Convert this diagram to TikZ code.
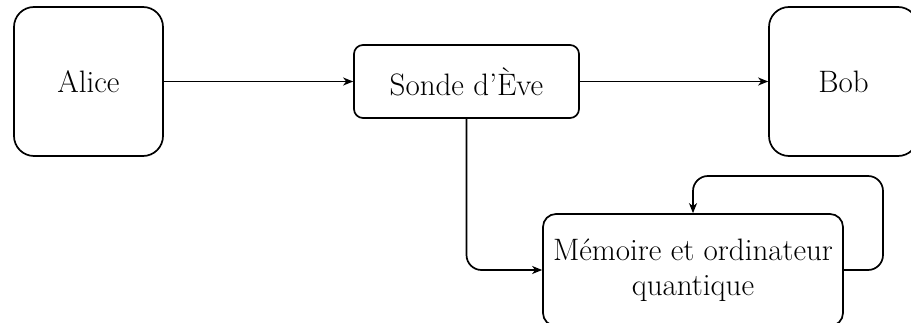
\documentclass[tikz,border=0pt]{standalone}
\usepackage{fontspec}
\usetikzlibrary{arrows.meta}
\begin{document}
\begin{tikzpicture}[x=1pt,y=-1pt,
  every node/.style={font=\fontsize{31}{35}\selectfont},
  bigbox/.style={draw,line width=1.7pt,rounded corners=20pt,minimum width=149pt,minimum height=149pt,inner sep=0pt},
  probe/.style={draw,line width=1.7pt,rounded corners=9pt,minimum width=225pt,minimum height=73pt,inner sep=0pt},
  membox/.style={draw,line width=1.7pt,rounded corners=13pt,minimum width=300pt,minimum height=112pt,inner sep=0pt,align=center},
  link/.style={line width=1.7pt,rounded corners=15pt,-{Stealth[length=10pt,width=8pt,inset=3pt]}}]
\useasboundingbox (0,0) rectangle (911,323);
\clip (0,0) rectangle (911,323);
\node[bigbox] (alice) at (88.5,81.5) {Alice};
\node[probe] (eve) at (466.5,81.5) {Sonde d’Ève};
\node[bigbox] (bob) at (843.5,81.5) {Bob};
\node[membox] (mem) at (693,270) {Mémoire et ordinateur\\quantique};
\coordinate (loopr) at (883,176);
\draw[link] (alice.east) -- (eve.west);
\draw[link] (eve.east) -- (bob.west);
\draw[link] (eve.south) |- (mem.west);
\draw[link] (mem.east) -| (loopr) -| (mem.north);
\end{tikzpicture}
\end{document}
